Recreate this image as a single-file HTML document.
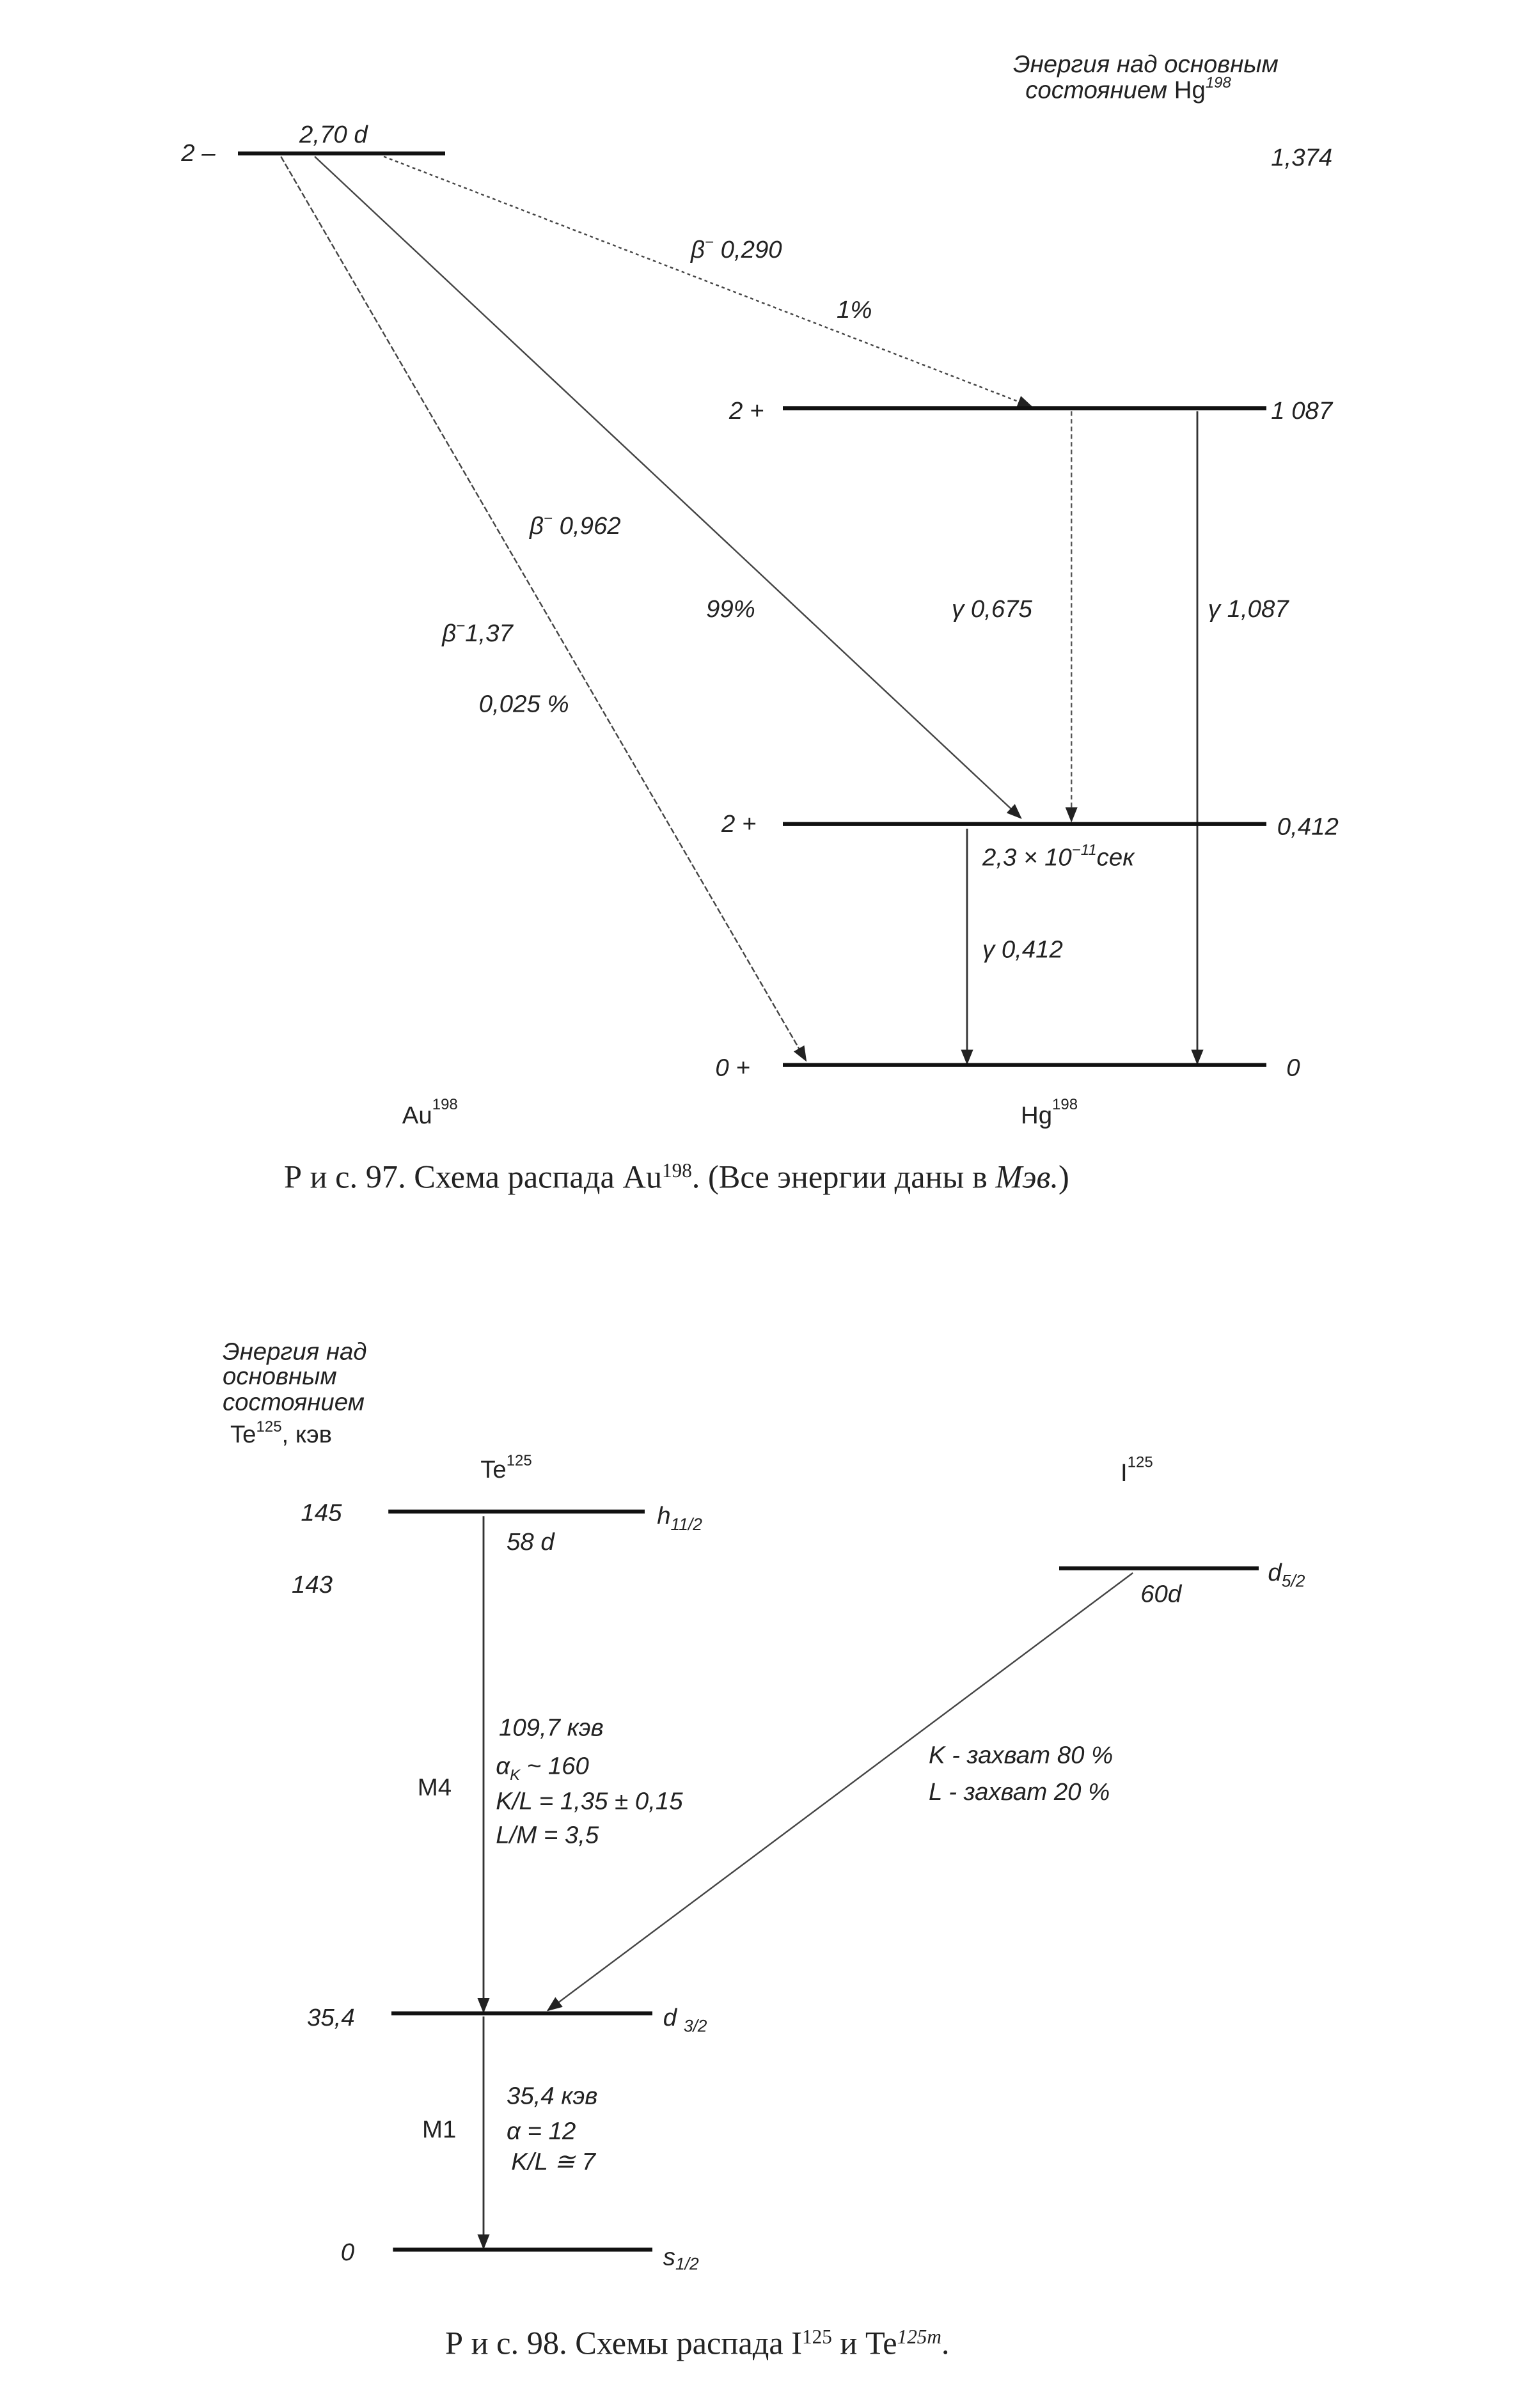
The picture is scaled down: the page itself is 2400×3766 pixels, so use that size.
<!DOCTYPE html>
<html><head><meta charset="utf-8"><style>
html,body{margin:0;padding:0;background:#fff;}
svg{display:block;}
text{font-family:"Liberation Sans",sans-serif;font-style:italic;fill:#222;}
.c{font-family:"Liberation Serif",serif;font-style:normal;}
</style></head><body>
<svg width="2400" height="3766" viewBox="0 0 1000 1569.17" xmlns="http://www.w3.org/2000/svg">
<defs><marker id="a" markerWidth="10" markerHeight="8" refX="9" refY="4" orient="auto" markerUnits="userSpaceOnUse"><path d="M0,0 L10,4 L0,8 z" fill="#222"/></marker></defs>
<g font-size="16">
<text x="660" y="47">Энергия над основным</text>
<text x="668" y="64">состоянием <tspan style="font-style:normal">Hg</tspan><tspan font-size="10" dy="-7">198</tspan></text>
<text x="828" y="108">1,374</text>
<text x="118" y="105">2 –</text>
<text x="195" y="93">2,70 d</text>
<line x1="155" y1="100" x2="290" y2="100" stroke="#111" stroke-width="2.6"/>
<line x1="250" y1="102" x2="672" y2="265" stroke="#444" stroke-width="1" stroke-dasharray="2,2" marker-end="url(#a)"/>
<text x="450" y="168">β<tspan font-size="10" dy="-7">−</tspan><tspan dy="7"> 0,290</tspan></text>
<text x="545" y="207">1%</text>
<line x1="510" y1="266" x2="825" y2="266" stroke="#111" stroke-width="2.6"/>
<text x="475" y="273">2 +</text>
<text x="828" y="273">1 087</text>
<line x1="205" y1="102" x2="665" y2="533" stroke="#444" stroke-width="1" marker-end="url(#a)"/>
<text x="345" y="348">β<tspan font-size="10" dy="-7">−</tspan><tspan dy="7"> 0,962</tspan></text>
<text x="460" y="402">99%</text>
<line x1="183" y1="102" x2="525" y2="691" stroke="#444" stroke-width="1" stroke-dasharray="4,1.5" marker-end="url(#a)"/>
<text x="288" y="418">β<tspan font-size="10" dy="-7">−</tspan><tspan dy="7">1,37</tspan></text>
<text x="312" y="464">0,025 %</text>
<line x1="698" y1="268" x2="698" y2="535" stroke="#555" stroke-width="1" stroke-dasharray="3,2" marker-end="url(#a)"/>
<text x="620" y="402">γ 0,675</text>
<line x1="780" y1="268" x2="780" y2="693" stroke="#333" stroke-width="1.2" marker-end="url(#a)"/>
<text x="787" y="402">γ 1,087</text>
<line x1="510" y1="537" x2="825" y2="537" stroke="#111" stroke-width="2.6"/>
<text x="470" y="542">2 +</text>
<text x="832" y="544">0,412</text>
<text x="640" y="564">2,3 × 10<tspan font-size="10" dy="-7">−11</tspan><tspan dy="7">сек</tspan></text>
<line x1="630" y1="540" x2="630" y2="693" stroke="#333" stroke-width="1.2" marker-end="url(#a)"/>
<text x="640" y="624">γ 0,412</text>
<line x1="510" y1="694" x2="825" y2="694" stroke="#111" stroke-width="2.6"/>
<text x="466" y="701">0 +</text>
<text x="838" y="701">0</text>
<text x="262" y="732" style="font-style:normal">Au<tspan font-size="10" dy="-9">198</tspan></text>
<text x="665" y="732" style="font-style:normal">Hg<tspan font-size="10" dy="-9">198</tspan></text>
<text class="c" x="185" y="774" font-size="21">Р и с. 97. Схема распада Au<tspan font-size="13" dy="-7">198</tspan><tspan dy="7">. (Все энергии даны в </tspan><tspan style="font-style:italic">Мэв.</tspan>)</text>

<text x="145" y="886">Энергия над</text>
<text x="145" y="902">основным</text>
<text x="145" y="919">состоянием</text>
<text x="150" y="940" style="font-style:normal">Te<tspan font-size="10" dy="-7">125</tspan><tspan dy="7">, кэв</tspan></text>
<text x="313" y="963" style="font-style:normal">Te<tspan font-size="10" dy="-8">125</tspan></text>
<text x="730" y="965" style="font-style:normal">I<tspan font-size="10" dy="-9">125</tspan></text>
<text x="196" y="991">145</text>
<line x1="253" y1="985" x2="420" y2="985" stroke="#111" stroke-width="2.6"/>
<text x="428" y="993">h<tspan font-size="11" dy="4">11/2</tspan></text>
<text x="330" y="1010">58 d</text>
<text x="190" y="1038">143</text>
<line x1="690" y1="1022" x2="820" y2="1022" stroke="#111" stroke-width="2.6"/>
<text x="826" y="1030">d<tspan font-size="11" dy="4">5/2</tspan></text>
<text x="743" y="1044">60d</text>
<line x1="315" y1="988" x2="315" y2="1311" stroke="#333" stroke-width="1.2" marker-end="url(#a)"/>
<text x="272" y="1170" style="font-style:normal">M4</text>
<text x="325" y="1131">109,7 кэв</text>
<text x="323" y="1156">α<tspan font-size="10" dy="4">K</tspan><tspan dy="-4"> ~ 160</tspan></text>
<text x="323" y="1179">K/L = 1,35 ± 0,15</text>
<text x="323" y="1201">L/M = 3,5</text>
<line x1="738" y1="1025" x2="357" y2="1310" stroke="#444" stroke-width="1" marker-end="url(#a)"/>
<text x="605" y="1149">K - захват 80 %</text>
<text x="605" y="1173">L - захват 20 %</text>
<text x="200" y="1320">35,4</text>
<line x1="255" y1="1312" x2="425" y2="1312" stroke="#111" stroke-width="2.6"/>
<text x="432" y="1320">d <tspan font-size="11" dy="4">3/2</tspan></text>
<line x1="315" y1="1314" x2="315" y2="1465" stroke="#333" stroke-width="1.2" marker-end="url(#a)"/>
<text x="275" y="1393" style="font-style:normal">M1</text>
<text x="330" y="1371">35,4 кэв</text>
<text x="330" y="1394">α = 12</text>
<text x="333" y="1414">K/L ≅ 7</text>
<text x="222" y="1473">0</text>
<line x1="256" y1="1466" x2="425" y2="1466" stroke="#111" stroke-width="2.6"/>
<text x="432" y="1476">s<tspan font-size="11" dy="3">1/2</tspan></text>
<text class="c" x="290" y="1534" font-size="21">Р и с. 98. Схемы распада I<tspan font-size="13" dy="-7">125</tspan><tspan dy="7"> и Te</tspan><tspan font-size="13" dy="-7" style="font-style:italic">125m</tspan><tspan dy="7">.</tspan></text>
</g>
</svg>
</body></html>
